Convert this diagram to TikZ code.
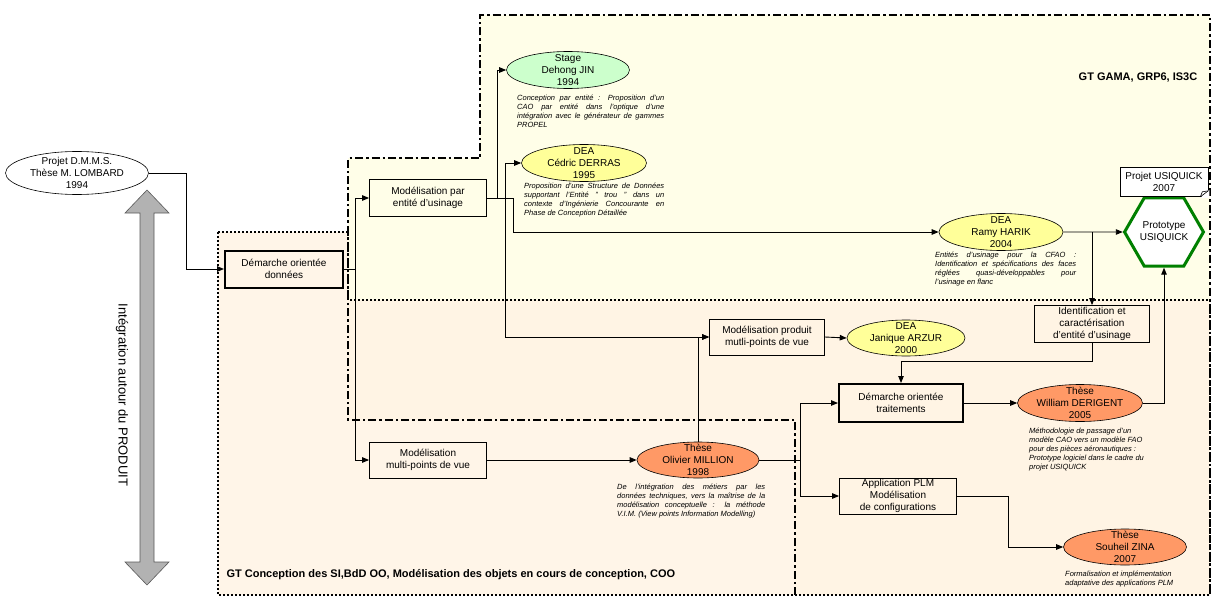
\documentclass[tikz,border=0pt]{standalone}
\usepackage{fontspec}
\setmainfont{Liberation Sans}
\usepackage{xcolor}
\usepackage{tikz}
\usetikzlibrary{shapes.geometric,arrows.meta}

\definecolor{fondjaune}{RGB}{255,254,232}
\definecolor{fondorange}{RGB}{255,243,228}
\definecolor{vertclair}{RGB}{204,255,204}
\definecolor{jaunedea}{RGB}{255,255,153}
\definecolor{saumon}{RGB}{255,153,102}
\definecolor{vertproto}{RGB}{0,128,0}
\definecolor{grisfleche}{RGB}{178,178,178}

\tikzset{
  ovale/.style={ellipse, draw, line width=0.6pt, inner xsep=0pt, inner ysep=-6pt, align=center,
    font=\fontsize{10}{12}\selectfont, minimum width=123pt, minimum height=37pt},
  stage/.style={ovale, fill=vertclair},
  dea/.style={ovale, fill=jaunedea},
  these/.style={ovale, fill=saumon},
  boite/.style={rectangle, draw, line width=0.8pt, align=center, inner sep=0pt,
    font=\fontsize{10}{12}\selectfont, minimum width=117pt, minimum height=36pt},
  demarche/.style={boite, line width=2pt},
  resume/.style={font=\fontsize{7.5}{9}\selectfont\itshape, inner sep=0pt, anchor=north west, align=justify},
  fleche/.style={-{Triangle[length=7pt,width=5.5pt]}, line width=0.9pt},
  pointille/.style={line width=2pt, dash pattern=on 2pt off 2pt},
  tiretpoint/.style={line width=2.2pt, dash pattern=on 8pt off 3pt on 2.5pt off 3pt},
}

\begin{document}
\begin{tikzpicture}[x=1pt,y=-1pt]
\useasboundingbox (0,0) rectangle (1215,599);

% zones des groupes de travail
\fill[fondjaune] (480,15) -- (1210,15) -- (1210,595) -- (795,595) -- (795,420) -- (348,420) -- (348,158) -- (480,158) -- cycle;
\fill[fondorange, fill opacity=0.85] (218,232) -- (348,232) -- (348,300) -- (1210,300) -- (1210,595) -- (218,595) -- cycle;
\draw[pointille] (218,232) -- (348,232) -- (348,300) -- (1210,300) -- (1210,595) -- (218,595) -- cycle;
\draw[tiretpoint] (795,595) -- (795,420) -- (348,420) -- (348,158) -- (480,158) -- (480,15) -- (1210,15) -- (1210,595);
\node[font=\fontsize{11}{13}\selectfont\bfseries] (gama) at (1138,78) {GT GAMA, GRP6, IS3C};
\node[font=\fontsize{11}{13}\selectfont\bfseries, anchor=west] (coo) at (223,575) {GT Conception des SI,BdD OO, Mod\'elisation des objets en cours de conception, COO};

% fleche grise
\draw[draw=gray!70!black, fill=grisfleche, line width=0.6pt] (147,190) -- (169,213) -- (154,213) -- (154,562) -- (169,562) -- (147,585) -- (125,562) -- (140,562) -- (140,213) -- (125,213) -- cycle;
\node[rotate=-90, font=\fontsize{13}{15}\selectfont] (integration) at (122,395) {Int\'egration autour du PRODUIT};

% noeuds
\node[ovale, fill=white, minimum width=143pt, minimum height=43pt] (lombard) at (77,173) {Projet D.M.M.S.\\Th\`ese M. LOMBARD\\1994};
\node[demarche, minimum width=118pt, minimum height=37pt] (dod) at (284,269) {D\'emarche orient\'ee\\donn\'ees};
\node[boite, minimum height=37pt] (mpe) at (428,198) {Mod\'elisation par\\entit\'e d'usinage};
\node[boite] (mmv) at (428,460) {Mod\'elisation\\multi-points de vue};
\node[stage] (jin) at (568,70) {Stage\\Dehong JIN\\1994};
\node[dea, minimum width=125pt] (derras) at (584,163) {DEA\\C\'edric DERRAS\\1995};
\node[dea, minimum width=124pt] (harik) at (1001,232) {DEA\\Ramy HARIK\\2004};
\node[dea, minimum width=118pt, minimum height=36pt] (arzur) at (906,338) {DEA\\Janique ARZUR\\2000};
\node[these, minimum width=122pt, minimum height=36pt] (millon) at (698,460) {Th\`ese\\Olivier MILLION\\1998};
\node[these, minimum width=125pt] (william) at (1080,403) {Th\`ese\\William DERIGENT\\2005};
\node[these, minimum height=36pt] (zina) at (1125,547) {Th\`ese\\Souheil ZINA\\2007};
\node[boite, minimum width=115pt] (mprod) at (767,337) {Mod\'elisation produit\\mutli-points de vue};
\node[boite, minimum width=115pt, minimum height=37pt] (ident) at (1092,324) {Identification et\\caract\'erisation\\d'entit\'e d'usinage};
\node[demarche, minimum width=124pt, minimum height=38pt] (dot) at (901,403) {D\'emarche orient\'ee\\traitements};
\node[boite] (plm) at (898,496) {Application PLM\\Mod\'elisation\\de configurations};
\node[regular polygon, regular polygon sides=6, minimum size=76pt, draw=vertproto, line width=3pt,
  fill=white, inner sep=0pt, align=center, font=\fontsize{10}{12}\selectfont] (proto) at (1164,232) {Prototype\\USIQUICK};
\node[rectangle, draw, fill=white, line width=0.6pt, align=center, inner sep=0pt, minimum width=88pt,
  minimum height=29pt, font=\fontsize{10}{12}\selectfont] (projet) at (1164,182) {Projet USIQUICK\\2007};
\fill[white] (projet.south east) ++(-8,1) -- ++(9,0) -- ++(0,-8) -- cycle;
\draw[line width=0.6pt] (projet.south east) ++(-8,0) -- ++(8,-6);
\draw[line width=0.6pt] (projet.south east) ++(-8,0) -- ++(2,-5) -- ++(6,-1);

% resumes
\node[resume, text width=147pt] (jin-txt) at (517,95) {Conception par entit\'e : Proposition d'un\linebreak CAO par entit\'e dans l'optique d'une\linebreak int\'egration avec le g\'en\'erateur de gammes\linebreak PROPEL};
\node[resume, text width=140pt] (derras-txt) at (524,183) {Proposition d'une Structure de Donn\'ees\linebreak supportant l'Entit\'e " trou " dans un\linebreak contexte d'Ing\'enierie Concourante en\linebreak Phase de Conception D\'etaill\'ee};
\node[resume, text width=141pt] (harik-txt) at (935,252) {Entit\'es d'usinage pour la CFAO :\linebreak Identification et sp\'ecifications des faces\linebreak r\'egl\'ees quasi-d\'eveloppables pour\linebreak l'usinage en flanc};
\node[resume, text width=148pt] (millon-txt) at (617,484) {De l'int\'egration des m\'etiers par les\linebreak donn\'ees techniques, vers la ma\^itrise de la\linebreak mod\'elisation conceptuelle : la m\'ethode\linebreak V.I.M. (View points Information Modelling)};
\node[resume, align=left] (william-txt) at (1029,428) {M\'ethodologie de passage d'un\\mod\`ele CAO vers un mod\`ele FAO\\pour des pi\`eces a\'eronautiques :\\Prototype logiciel dans le cadre du\\projet USIQUICK};
\node[resume, align=left] (zina-txt) at (1065,571) {Formalisation et impl\'ementation\\adaptative des applications PLM};

% liaisons
\draw[fleche] (lombard.east) -- ++(38,0) |- (dod.west);
\draw[fleche] (dod.east) -- ++(11,0) |- (mpe.west);
\draw[fleche] (dod.east) -- ++(11,0) |- (mmv.west);
\draw[fleche] (mpe.east) -- ++(11,0) |- (jin.west);
\draw[fleche] (mpe.east) -- ++(19,0) |- (derras.west);
\draw[fleche] (mpe.east) -- ++(19,0) |- (mprod.west);
\draw[fleche] (mpe.east) -- ++(27,0) |- (harik.west);
\draw[fleche] (harik.east) -- (proto.west);
\draw[fleche] (harik.east -| ident.north) -- (ident.north);
\draw[fleche] (ident.south) -- ++(0,19) -| (dot.north);
\draw[fleche] (mprod.east) -- (arzur.west);
\draw[fleche] (millon.north) |- (mprod.west);
\draw[fleche] (mmv.east) -- (millon.west);
\draw[fleche] (millon.east) -- ++(41,0) |- (dot.west);
\draw[fleche] (millon.east) -- ++(41,0) |- (plm.west);
\draw[fleche] (dot.east) -- (william.west);
\draw[fleche] (william.east) -| (proto.south);
\draw[fleche] (plm.east) -- ++(52,0) |- (zina.west);
\end{tikzpicture}
\end{document}
